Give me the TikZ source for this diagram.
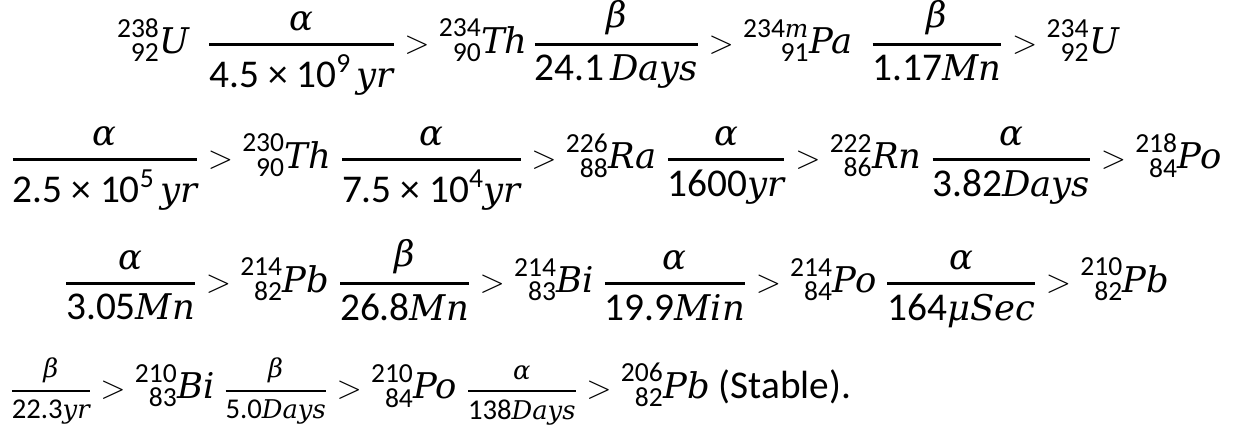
\documentclass[tikz,border=0pt]{standalone}
\usepackage{amsmath}
\usepackage{mathtools}
\usepackage{fontspec}
\setmainfont{Carlito}
\newfontfamily\letfont{DejaVu Serif}[ItalicFont={DejaVu Serif Italic}, Scale=0.9]
\usepackage{tikz}

% upright digits in the text font
\newcommand{\up}[1]{\text{#1}}
% italic letters and greek symbols
\newcommand{\lt}[1]{\text{\letfont\itshape #1}}
% isotope with mass number and atomic number in front
\newcommand{\iso}[3]{\prescript{\scriptstyle\up{#1}}{\scriptstyle\up{#2}}{\lt{#3}}}
% decay step: particle over half life
\newcommand{\dk}[2]{\genfrac{}{}{2.2pt}{0}{#1}{#2}}
% smaller decay step for the last row
\newcommand{\sdk}[2]{\text{\fontsize{21.5}{25}\selectfont$\genfrac{}{}{1.8pt}{0}{#1}{#2}$}}

\begin{document}
\begin{tikzpicture}[
    x=0.75pt, y=-0.75pt,
    eq/.style={inner sep=0pt, font=\fontsize{29.5}{34}\selectfont}
]
    \useasboundingbox (0,0) rectangle (1241,433);
    % first row, centred
    \node[eq, anchor=base] (row1) at (618,53)
        {$\iso{238}{92}{U}\;\;\dk{\lt{α}}{\up{4.5 × 10}^{\up{9}}\,\lt{yr}} > \iso{234}{90}{Th}\,\dk{\lt{β}}{\up{24.1}\,\lt{Days}} > \iso{234\lt{m}}{91}{Pa}\;\;\dk{\lt{β}}{\up{1.17}\lt{Mn}} > \iso{234}{92}{U}$};
    % second row, from the left
    \node[eq, anchor=base west] (row2) at (11,168)
        {$\dk{\lt{α}}{\up{2.5 × 10}^{\up{5}}\,\lt{yr}} > \iso{230}{90}{Th}\;\dk{\lt{α}}{\up{7.5 × 10}^{\up{4}}\lt{yr}} > \iso{226}{88}{Ra}\;\dk{\lt{α}}{\up{1600}\lt{yr}} > \iso{222}{86}{Rn}\;\dk{\lt{α}}{\up{3.82}\lt{Days}} > \iso{218}{84}{Po}$};
    % third row, centred
    \node[eq, anchor=base] (row3) at (617,292)
        {$\dk{\lt{α}}{\up{3.05}\lt{Mn}} > \iso{214}{82}{Pb}\;\dk{\lt{β}}{\up{26.8}\lt{Mn}} > \iso{214}{83}{Bi}\;\dk{\lt{α}}{\up{19.9}\lt{Min}} > \iso{214}{84}{Po}\;\dk{\lt{α}}{\up{164}\lt{μSec}} > \iso{210}{82}{Pb}$};
    % last row, small fractions
    \node[eq, anchor=base west] (row4) at (10,398)
        {$\sdk{\lt{β}}{\up{22.3}\lt{yr}} > \iso{210}{83}{Bi}\;\sdk{\lt{β}}{\up{5.0}\lt{Days}} > \iso{210}{84}{Po}\;\sdk{\lt{α}}{\up{138}\lt{Days}} > \iso{206}{82}{Pb}$ (Stable).};
\end{tikzpicture}
\end{document}
